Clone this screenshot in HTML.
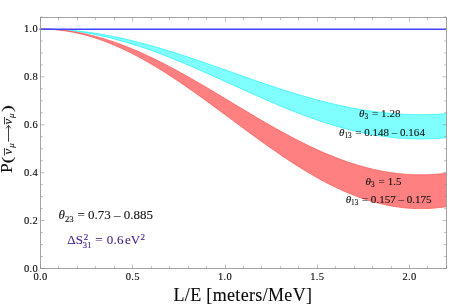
<!DOCTYPE html>
<html><head><meta charset="utf-8"><style>
html,body{margin:0;padding:0;background:#fff}
svg{display:block;will-change:transform}
text{font-family:"Liberation Serif",serif;fill:#0a0a0a;stroke:#0a0a0a;stroke-width:0.12}
</style></head><body>
<svg width="463" height="306" viewBox="0 0 463 306">
<path d="M40.50,29.00 L44.19,29.02 L47.88,29.08 L51.57,29.18 L55.26,29.32 L58.95,29.50 L62.64,29.71 L66.33,29.97 L70.02,30.27 L73.71,30.60 L77.40,30.98 L81.09,31.39 L84.78,31.84 L88.47,32.32 L92.16,32.84 L95.85,33.40 L99.54,34.00 L103.23,34.63 L106.92,35.29 L110.61,35.99 L114.30,36.72 L117.99,37.49 L121.68,38.28 L125.37,39.11 L129.06,39.97 L132.75,40.86 L136.44,41.77 L140.13,42.72 L143.82,43.69 L147.51,44.69 L151.20,45.71 L154.89,46.76 L158.58,47.83 L162.27,48.92 L165.96,50.03 L169.65,51.17 L173.34,52.32 L177.03,53.49 L180.72,54.68 L184.41,55.89 L188.10,57.11 L191.79,58.34 L195.48,59.59 L199.17,60.84 L202.86,62.11 L206.55,63.39 L210.24,64.67 L213.93,65.96 L217.62,67.26 L221.31,68.56 L225.00,69.87 L228.69,71.17 L232.38,72.48 L236.07,73.78 L239.76,75.09 L243.45,76.39 L247.14,77.69 L250.83,78.98 L254.52,80.26 L258.21,81.54 L261.90,82.81 L265.59,84.07 L269.28,85.31 L272.97,86.55 L276.66,87.77 L280.35,88.97 L284.04,90.17 L287.73,91.34 L291.42,92.49 L295.11,93.63 L298.80,94.74 L302.49,95.84 L306.18,96.91 L309.87,97.96 L313.56,98.98 L317.25,99.98 L320.94,100.96 L324.63,101.90 L328.32,102.82 L332.01,103.71 L335.70,104.57 L339.39,105.40 L343.08,106.20 L346.77,106.97 L350.46,107.70 L354.15,108.40 L357.84,109.07 L361.53,109.70 L365.22,110.30 L368.91,110.86 L372.60,111.38 L376.29,111.87 L379.98,112.32 L383.67,112.74 L387.36,113.11 L391.05,113.45 L394.74,113.75 L398.43,114.01 L402.12,114.23 L405.81,114.41 L409.50,114.55 L413.19,114.66 L416.88,114.72 L420.57,114.74 L424.26,114.72 L427.95,114.67 L431.64,114.57 L435.33,114.43 L439.02,114.26 L442.71,114.04 L446.50,113.78 L446.50,137.70 L442.71,138.04 L439.02,138.31 L435.33,138.54 L431.64,138.71 L427.95,138.84 L424.26,138.91 L420.57,138.93 L416.88,138.90 L413.19,138.82 L409.50,138.69 L405.81,138.51 L402.12,138.28 L398.43,137.99 L394.74,137.66 L391.05,137.28 L387.36,136.84 L383.67,136.36 L379.98,135.83 L376.29,135.25 L372.60,134.63 L368.91,133.95 L365.22,133.23 L361.53,132.47 L357.84,131.66 L354.15,130.80 L350.46,129.90 L346.77,128.96 L343.08,127.98 L339.39,126.96 L335.70,125.89 L332.01,124.79 L328.32,123.65 L324.63,122.47 L320.94,121.26 L317.25,120.01 L313.56,118.73 L309.87,117.41 L306.18,116.07 L302.49,114.70 L298.80,113.29 L295.11,111.86 L291.42,110.41 L287.73,108.93 L284.04,107.42 L280.35,105.90 L276.66,104.35 L272.97,102.78 L269.28,101.20 L265.59,99.60 L261.90,97.99 L258.21,96.36 L254.52,94.73 L250.83,93.08 L247.14,91.42 L243.45,89.76 L239.76,88.09 L236.07,86.42 L232.38,84.74 L228.69,83.07 L225.00,81.39 L221.31,79.72 L217.62,78.05 L213.93,76.39 L210.24,74.74 L206.55,73.09 L202.86,71.45 L199.17,69.83 L195.48,68.21 L191.79,66.62 L188.10,65.04 L184.41,63.47 L180.72,61.93 L177.03,60.40 L173.34,58.90 L169.65,57.42 L165.96,55.97 L162.27,54.54 L158.58,53.14 L154.89,51.76 L151.20,50.42 L147.51,49.11 L143.82,47.83 L140.13,46.59 L136.44,45.38 L132.75,44.20 L129.06,43.06 L125.37,41.96 L121.68,40.90 L117.99,39.88 L114.30,38.90 L110.61,37.96 L106.92,37.07 L103.23,36.22 L99.54,35.41 L95.85,34.65 L92.16,33.93 L88.47,33.26 L84.78,32.64 L81.09,32.06 L77.40,31.53 L73.71,31.06 L70.02,30.63 L66.33,30.25 L62.64,29.92 L58.95,29.64 L55.26,29.41 L51.57,29.23 L47.88,29.10 L44.19,29.03 L40.50,29.00Z" fill="#80ffff"/>
<path d="M40.50,29.00 L44.19,29.02 L47.88,29.08 L51.57,29.18 L55.26,29.32 L58.95,29.50 L62.64,29.71 L66.33,29.97 L70.02,30.27 L73.71,30.60 L77.40,30.98 L81.09,31.39 L84.78,31.84 L88.47,32.32 L92.16,32.84 L95.85,33.40 L99.54,34.00 L103.23,34.63 L106.92,35.29 L110.61,35.99 L114.30,36.72 L117.99,37.49 L121.68,38.28 L125.37,39.11 L129.06,39.97 L132.75,40.86 L136.44,41.77 L140.13,42.72 L143.82,43.69 L147.51,44.69 L151.20,45.71 L154.89,46.76 L158.58,47.83 L162.27,48.92 L165.96,50.03 L169.65,51.17 L173.34,52.32 L177.03,53.49 L180.72,54.68 L184.41,55.89 L188.10,57.11 L191.79,58.34 L195.48,59.59 L199.17,60.84 L202.86,62.11 L206.55,63.39 L210.24,64.67 L213.93,65.96 L217.62,67.26 L221.31,68.56 L225.00,69.87 L228.69,71.17 L232.38,72.48 L236.07,73.78 L239.76,75.09 L243.45,76.39 L247.14,77.69 L250.83,78.98 L254.52,80.26 L258.21,81.54 L261.90,82.81 L265.59,84.07 L269.28,85.31 L272.97,86.55 L276.66,87.77 L280.35,88.97 L284.04,90.17 L287.73,91.34 L291.42,92.49 L295.11,93.63 L298.80,94.74 L302.49,95.84 L306.18,96.91 L309.87,97.96 L313.56,98.98 L317.25,99.98 L320.94,100.96 L324.63,101.90 L328.32,102.82 L332.01,103.71 L335.70,104.57 L339.39,105.40 L343.08,106.20 L346.77,106.97 L350.46,107.70 L354.15,108.40 L357.84,109.07 L361.53,109.70 L365.22,110.30 L368.91,110.86 L372.60,111.38 L376.29,111.87 L379.98,112.32 L383.67,112.74 L387.36,113.11 L391.05,113.45 L394.74,113.75 L398.43,114.01 L402.12,114.23 L405.81,114.41 L409.50,114.55 L413.19,114.66 L416.88,114.72 L420.57,114.74 L424.26,114.72 L427.95,114.67 L431.64,114.57 L435.33,114.43 L439.02,114.26 L442.71,114.04 L446.50,113.78" fill="none" stroke="#38f2fb" stroke-width="0.85"/>
<path d="M40.50,29.00 L44.19,29.03 L47.88,29.10 L51.57,29.23 L55.26,29.41 L58.95,29.64 L62.64,29.92 L66.33,30.25 L70.02,30.63 L73.71,31.06 L77.40,31.53 L81.09,32.06 L84.78,32.64 L88.47,33.26 L92.16,33.93 L95.85,34.65 L99.54,35.41 L103.23,36.22 L106.92,37.07 L110.61,37.96 L114.30,38.90 L117.99,39.88 L121.68,40.90 L125.37,41.96 L129.06,43.06 L132.75,44.20 L136.44,45.38 L140.13,46.59 L143.82,47.83 L147.51,49.11 L151.20,50.42 L154.89,51.76 L158.58,53.14 L162.27,54.54 L165.96,55.97 L169.65,57.42 L173.34,58.90 L177.03,60.40 L180.72,61.93 L184.41,63.47 L188.10,65.04 L191.79,66.62 L195.48,68.21 L199.17,69.83 L202.86,71.45 L206.55,73.09 L210.24,74.74 L213.93,76.39 L217.62,78.05 L221.31,79.72 L225.00,81.39 L228.69,83.07 L232.38,84.74 L236.07,86.42 L239.76,88.09 L243.45,89.76 L247.14,91.42 L250.83,93.08 L254.52,94.73 L258.21,96.36 L261.90,97.99 L265.59,99.60 L269.28,101.20 L272.97,102.78 L276.66,104.35 L280.35,105.90 L284.04,107.42 L287.73,108.93 L291.42,110.41 L295.11,111.86 L298.80,113.29 L302.49,114.70 L306.18,116.07 L309.87,117.41 L313.56,118.73 L317.25,120.01 L320.94,121.26 L324.63,122.47 L328.32,123.65 L332.01,124.79 L335.70,125.89 L339.39,126.96 L343.08,127.98 L346.77,128.96 L350.46,129.90 L354.15,130.80 L357.84,131.66 L361.53,132.47 L365.22,133.23 L368.91,133.95 L372.60,134.63 L376.29,135.25 L379.98,135.83 L383.67,136.36 L387.36,136.84 L391.05,137.28 L394.74,137.66 L398.43,137.99 L402.12,138.28 L405.81,138.51 L409.50,138.69 L413.19,138.82 L416.88,138.90 L420.57,138.93 L424.26,138.91 L427.95,138.84 L431.64,138.71 L435.33,138.54 L439.02,138.31 L442.71,138.04 L446.50,137.70" fill="none" stroke="#38f2fb" stroke-width="0.85"/>
<path d="M40.50,29.00 L44.19,29.03 L47.88,29.14 L51.57,29.30 L55.26,29.54 L58.95,29.85 L62.64,30.22 L66.33,30.65 L70.02,31.16 L73.71,31.73 L77.40,32.36 L81.09,33.06 L84.78,33.82 L88.47,34.65 L92.16,35.54 L95.85,36.49 L99.54,37.50 L103.23,38.57 L106.92,39.70 L110.61,40.89 L114.30,42.14 L117.99,43.44 L121.68,44.79 L125.37,46.20 L129.06,47.66 L132.75,49.17 L136.44,50.73 L140.13,52.33 L143.82,53.99 L147.51,55.68 L151.20,57.42 L154.89,59.20 L158.58,61.02 L162.27,62.88 L165.96,64.78 L169.65,66.71 L173.34,68.67 L177.03,70.66 L180.72,72.69 L184.41,74.74 L188.10,76.81 L191.79,78.91 L195.48,81.03 L199.17,83.17 L202.86,85.32 L206.55,87.50 L210.24,89.68 L213.93,91.88 L217.62,94.08 L221.31,96.30 L225.00,98.52 L228.69,100.74 L232.38,102.96 L236.07,105.18 L239.76,107.40 L243.45,109.61 L247.14,111.82 L250.83,114.02 L254.52,116.20 L258.21,118.38 L261.90,120.54 L265.59,122.68 L269.28,124.80 L272.97,126.90 L276.66,128.97 L280.35,131.02 L284.04,133.05 L287.73,135.04 L291.42,137.01 L295.11,138.94 L298.80,140.84 L302.49,142.70 L306.18,144.52 L309.87,146.31 L313.56,148.05 L317.25,149.75 L320.94,151.41 L324.63,153.02 L328.32,154.58 L332.01,156.09 L335.70,157.56 L339.39,158.97 L343.08,160.33 L346.77,161.63 L350.46,162.88 L354.15,164.07 L357.84,165.20 L361.53,166.28 L365.22,167.30 L368.91,168.25 L372.60,169.14 L376.29,169.98 L379.98,170.74 L383.67,171.45 L387.36,172.09 L391.05,172.66 L394.74,173.17 L398.43,173.61 L402.12,173.99 L405.81,174.29 L409.50,174.54 L413.19,174.71 L416.88,174.82 L420.57,174.86 L424.26,174.83 L427.95,174.73 L431.64,174.56 L435.33,174.33 L439.02,174.03 L442.71,173.67 L446.50,173.22 L446.50,206.61 L442.71,207.16 L439.02,207.61 L435.33,207.98 L431.64,208.27 L427.95,208.47 L424.26,208.59 L420.57,208.62 L416.88,208.58 L413.19,208.45 L409.50,208.23 L405.81,207.93 L402.12,207.55 L398.43,207.09 L394.74,206.55 L391.05,205.92 L387.36,205.21 L383.67,204.43 L379.98,203.56 L376.29,202.61 L372.60,201.59 L368.91,200.49 L365.22,199.32 L361.53,198.06 L357.84,196.74 L354.15,195.34 L350.46,193.87 L346.77,192.34 L343.08,190.73 L339.39,189.06 L335.70,187.32 L332.01,185.52 L328.32,183.65 L324.63,181.73 L320.94,179.75 L317.25,177.71 L313.56,175.62 L309.87,173.47 L306.18,171.27 L302.49,169.03 L298.80,166.73 L295.11,164.40 L291.42,162.02 L287.73,159.60 L284.04,157.14 L280.35,154.65 L276.66,152.12 L272.97,149.56 L269.28,146.98 L265.59,144.36 L261.90,141.73 L258.21,139.07 L254.52,136.40 L250.83,133.70 L247.14,131.00 L243.45,128.28 L239.76,125.55 L236.07,122.82 L232.38,120.08 L228.69,117.35 L225.00,114.61 L221.31,111.88 L217.62,109.15 L213.93,106.44 L210.24,103.73 L206.55,101.04 L202.86,98.37 L199.17,95.71 L195.48,93.08 L191.79,90.47 L188.10,87.88 L184.41,85.33 L180.72,82.80 L177.03,80.31 L173.34,77.86 L169.65,75.44 L165.96,73.06 L162.27,70.73 L158.58,68.44 L154.89,66.20 L151.20,64.00 L147.51,61.86 L143.82,59.77 L140.13,57.74 L136.44,55.76 L132.75,53.84 L129.06,51.98 L125.37,50.18 L121.68,48.45 L117.99,46.78 L114.30,45.18 L110.61,43.64 L106.92,42.18 L103.23,40.79 L99.54,39.47 L95.85,38.22 L92.16,37.05 L88.47,35.96 L84.78,34.94 L81.09,34.00 L77.40,33.14 L73.71,32.36 L70.02,31.66 L66.33,31.04 L62.64,30.50 L58.95,30.04 L55.26,29.67 L51.57,29.38 L47.88,29.17 L44.19,29.04 L40.50,29.00Z" fill="#ff8080"/>
<path d="M40.50,29.00 L44.19,29.03 L47.88,29.14 L51.57,29.30 L55.26,29.54 L58.95,29.85 L62.64,30.22 L66.33,30.65 L70.02,31.16 L73.71,31.73 L77.40,32.36 L81.09,33.06 L84.78,33.82 L88.47,34.65 L92.16,35.54 L95.85,36.49 L99.54,37.50 L103.23,38.57 L106.92,39.70 L110.61,40.89 L114.30,42.14 L117.99,43.44 L121.68,44.79 L125.37,46.20 L129.06,47.66 L132.75,49.17 L136.44,50.73 L140.13,52.33 L143.82,53.99 L147.51,55.68 L151.20,57.42 L154.89,59.20 L158.58,61.02 L162.27,62.88 L165.96,64.78 L169.65,66.71 L173.34,68.67 L177.03,70.66 L180.72,72.69 L184.41,74.74 L188.10,76.81 L191.79,78.91 L195.48,81.03 L199.17,83.17 L202.86,85.32 L206.55,87.50 L210.24,89.68 L213.93,91.88 L217.62,94.08 L221.31,96.30 L225.00,98.52 L228.69,100.74 L232.38,102.96 L236.07,105.18 L239.76,107.40 L243.45,109.61 L247.14,111.82 L250.83,114.02 L254.52,116.20 L258.21,118.38 L261.90,120.54 L265.59,122.68 L269.28,124.80 L272.97,126.90 L276.66,128.97 L280.35,131.02 L284.04,133.05 L287.73,135.04 L291.42,137.01 L295.11,138.94 L298.80,140.84 L302.49,142.70 L306.18,144.52 L309.87,146.31 L313.56,148.05 L317.25,149.75 L320.94,151.41 L324.63,153.02 L328.32,154.58 L332.01,156.09 L335.70,157.56 L339.39,158.97 L343.08,160.33 L346.77,161.63 L350.46,162.88 L354.15,164.07 L357.84,165.20 L361.53,166.28 L365.22,167.30 L368.91,168.25 L372.60,169.14 L376.29,169.98 L379.98,170.74 L383.67,171.45 L387.36,172.09 L391.05,172.66 L394.74,173.17 L398.43,173.61 L402.12,173.99 L405.81,174.29 L409.50,174.54 L413.19,174.71 L416.88,174.82 L420.57,174.86 L424.26,174.83 L427.95,174.73 L431.64,174.56 L435.33,174.33 L439.02,174.03 L442.71,173.67 L446.50,173.22" fill="none" stroke="#ff6060" stroke-width="0.8"/>
<path d="M40.50,29.00 L44.19,29.04 L47.88,29.17 L51.57,29.38 L55.26,29.67 L58.95,30.04 L62.64,30.50 L66.33,31.04 L70.02,31.66 L73.71,32.36 L77.40,33.14 L81.09,34.00 L84.78,34.94 L88.47,35.96 L92.16,37.05 L95.85,38.22 L99.54,39.47 L103.23,40.79 L106.92,42.18 L110.61,43.64 L114.30,45.18 L117.99,46.78 L121.68,48.45 L125.37,50.18 L129.06,51.98 L132.75,53.84 L136.44,55.76 L140.13,57.74 L143.82,59.77 L147.51,61.86 L151.20,64.00 L154.89,66.20 L158.58,68.44 L162.27,70.73 L165.96,73.06 L169.65,75.44 L173.34,77.86 L177.03,80.31 L180.72,82.80 L184.41,85.33 L188.10,87.88 L191.79,90.47 L195.48,93.08 L199.17,95.71 L202.86,98.37 L206.55,101.04 L210.24,103.73 L213.93,106.44 L217.62,109.15 L221.31,111.88 L225.00,114.61 L228.69,117.35 L232.38,120.08 L236.07,122.82 L239.76,125.55 L243.45,128.28 L247.14,131.00 L250.83,133.70 L254.52,136.40 L258.21,139.07 L261.90,141.73 L265.59,144.36 L269.28,146.98 L272.97,149.56 L276.66,152.12 L280.35,154.65 L284.04,157.14 L287.73,159.60 L291.42,162.02 L295.11,164.40 L298.80,166.73 L302.49,169.03 L306.18,171.27 L309.87,173.47 L313.56,175.62 L317.25,177.71 L320.94,179.75 L324.63,181.73 L328.32,183.65 L332.01,185.52 L335.70,187.32 L339.39,189.06 L343.08,190.73 L346.77,192.34 L350.46,193.87 L354.15,195.34 L357.84,196.74 L361.53,198.06 L365.22,199.32 L368.91,200.49 L372.60,201.59 L376.29,202.61 L379.98,203.56 L383.67,204.43 L387.36,205.21 L391.05,205.92 L394.74,206.55 L398.43,207.09 L402.12,207.55 L405.81,207.93 L409.50,208.23 L413.19,208.45 L416.88,208.58 L420.57,208.62 L424.26,208.59 L427.95,208.47 L431.64,208.27 L435.33,207.98 L439.02,207.61 L442.71,207.16 L446.50,206.61" fill="none" stroke="#ff6060" stroke-width="0.8"/>
<line x1="39.5" y1="29.25" x2="446.5" y2="29.25" stroke="#4242ff" stroke-width="1.55"/>
<rect x="40.5" y="17.50" width="406.00" height="251.00" fill="none" stroke="#949494" stroke-width="0.85"/>
<path d="M40.50,268.5v-4 M40.50,17.50v4 M58.50,268.5v-2.4 M58.50,17.50v2.4 M77.50,268.5v-2.4 M77.50,17.50v2.4 M95.50,268.5v-2.4 M95.50,17.50v2.4 M114.50,268.5v-2.4 M114.50,17.50v2.4 M132.50,268.5v-4 M132.50,17.50v4 M151.50,268.5v-2.4 M151.50,17.50v2.4 M169.50,268.5v-2.4 M169.50,17.50v2.4 M188.50,268.5v-2.4 M188.50,17.50v2.4 M206.50,268.5v-2.4 M206.50,17.50v2.4 M225.50,268.5v-4 M225.50,17.50v4 M243.50,268.5v-2.4 M243.50,17.50v2.4 M261.50,268.5v-2.4 M261.50,17.50v2.4 M280.50,268.5v-2.4 M280.50,17.50v2.4 M298.50,268.5v-2.4 M298.50,17.50v2.4 M317.50,268.5v-4 M317.50,17.50v4 M335.50,268.5v-2.4 M335.50,17.50v2.4 M354.50,268.5v-2.4 M354.50,17.50v2.4 M372.50,268.5v-2.4 M372.50,17.50v2.4 M391.50,268.5v-2.4 M391.50,17.50v2.4 M409.50,268.5v-4 M409.50,17.50v4 M427.50,268.5v-2.4 M427.50,17.50v2.4 M446.50,268.5v-2.4 M446.50,17.50v2.4 M40.5,268.50h4 M446.50,268.50h-4 M40.5,256.52h2.4 M446.50,256.52h-2.4 M40.5,244.55h2.4 M446.50,244.55h-2.4 M40.5,232.57h2.4 M446.50,232.57h-2.4 M40.5,220.60h4 M446.50,220.60h-4 M40.5,208.62h2.4 M446.50,208.62h-2.4 M40.5,196.65h2.4 M446.50,196.65h-2.4 M40.5,184.68h2.4 M446.50,184.68h-2.4 M40.5,172.70h4 M446.50,172.70h-4 M40.5,160.72h2.4 M446.50,160.72h-2.4 M40.5,148.75h2.4 M446.50,148.75h-2.4 M40.5,136.77h2.4 M446.50,136.77h-2.4 M40.5,124.80h4 M446.50,124.80h-4 M40.5,112.82h2.4 M446.50,112.82h-2.4 M40.5,100.85h2.4 M446.50,100.85h-2.4 M40.5,88.88h2.4 M446.50,88.88h-2.4 M40.5,76.90h4 M446.50,76.90h-4 M40.5,64.93h2.4 M446.50,64.93h-2.4 M40.5,52.95h2.4 M446.50,52.95h-2.4 M40.5,40.98h2.4 M446.50,40.98h-2.4 M40.5,29.00h4 M446.50,29.00h-4 M40.5,17.02h2.4 M446.50,17.02h-2.4" stroke="#8a8a8a" stroke-width="0.55" fill="none"/>
<text x="40.50" y="280" font-size="10.5" letter-spacing="0.35" text-anchor="middle">0.0</text>
<text x="132.75" y="280" font-size="10.5" letter-spacing="0.35" text-anchor="middle">0.5</text>
<text x="225.00" y="280" font-size="10.5" letter-spacing="0.35" text-anchor="middle">1.0</text>
<text x="317.25" y="280" font-size="10.5" letter-spacing="0.35" text-anchor="middle">1.5</text>
<text x="409.50" y="280" font-size="10.5" letter-spacing="0.35" text-anchor="middle">2.0</text>
<text x="38.2" y="271.80" font-size="10.5" letter-spacing="0.35" text-anchor="end">0.0</text>
<text x="38.2" y="223.90" font-size="10.5" letter-spacing="0.35" text-anchor="end">0.2</text>
<text x="38.2" y="176.00" font-size="10.5" letter-spacing="0.35" text-anchor="end">0.4</text>
<text x="38.2" y="128.10" font-size="10.5" letter-spacing="0.35" text-anchor="end">0.6</text>
<text x="38.2" y="80.20" font-size="10.5" letter-spacing="0.35" text-anchor="end">0.8</text>
<text x="38.2" y="32.30" font-size="10.5" letter-spacing="0.35" text-anchor="end">1.0</text>
<text x="173.5" y="301.3" font-size="18" textLength="138.5" lengthAdjust="spacing">L/E [meters/MeV]</text>
<text x="58.5" y="219.4" font-size="13" style="fill:#111;stroke:#111;stroke-width:0.1"><tspan font-style="italic">θ</tspan><tspan font-size="8.6" dy="2.6">23</tspan><tspan dy="-2.6" dx="0.8" letter-spacing="0"> = 0.73 – 0.885</tspan></text>
<text x="359" y="117.1" font-size="11" style="fill:#111;stroke:#111;stroke-width:0.1"><tspan font-style="italic">θ</tspan><tspan font-size="7.3" dy="2.2">3</tspan><tspan dy="-2.2" dx="1.0" letter-spacing="0.1"> = 1.28</tspan></text>
<text x="339" y="136.1" font-size="11" style="fill:#111;stroke:#111;stroke-width:0.1"><tspan font-style="italic">θ</tspan><tspan font-size="7.3" dy="2.2">13</tspan><tspan dy="-2.2" dx="0.7" letter-spacing="0.02"> = 0.148 – 0.164</tspan></text>
<text x="365.6" y="184.5" font-size="11" style="fill:#111;stroke:#111;stroke-width:0.1"><tspan font-style="italic">θ</tspan><tspan font-size="7.3" dy="2.2">3</tspan><tspan dy="-2.2" dx="1.0" letter-spacing="0.1"> = 1.5</tspan></text>
<text x="345.7" y="203" font-size="11" style="fill:#111;stroke:#111;stroke-width:0.1"><tspan font-style="italic">θ</tspan><tspan font-size="7.3" dy="2.2">13</tspan><tspan dy="-2.2" dx="0.7" letter-spacing="0.02"> = 0.157 – 0.175</tspan></text>
<text x="67.3" y="244.3" font-size="13" style="fill:#3f1a88;stroke:#3f1a88;stroke-width:0.1" >ΔS</text>
<text x="83.8" y="239.7" font-size="9" style="fill:#3f1a88;stroke:#3f1a88;stroke-width:0.1" >2</text>
<text x="82.4" y="247.6" font-size="9" style="fill:#3f1a88;stroke:#3f1a88;stroke-width:0.1" >31</text>
<text x="95.3" y="244.3" font-size="13" style="fill:#3f1a88;stroke:#3f1a88;stroke-width:0.1" >=</text>
<text x="106.8" y="244.3" font-size="13" style="fill:#3f1a88;stroke:#3f1a88;stroke-width:0.1" letter-spacing="0.2">0.6</text>
<text x="125.1" y="244.3" font-size="13" style="fill:#3f1a88;stroke:#3f1a88;stroke-width:0.1" >eV</text>
<text x="140.4" y="239.7" font-size="9" style="fill:#3f1a88;stroke:#3f1a88;stroke-width:0.1" >2</text>
<g transform="translate(11.7,173) rotate(-90)"><text transform="translate(0,0) scale(1.08,1)" font-size="16" style="stroke:#111;stroke-width:0.1">P</text><text transform="translate(9.4,0.0) scale(1.4,1)" font-size="15" style="stroke:#111;stroke-width:0.1">(</text><text transform="translate(18.6,0) scale(1.0,1)" font-size="13" font-style="italic" style="stroke:#111;stroke-width:0.1">ν</text><text transform="translate(25.2,2.2) scale(1.0,1)" font-size="9" font-style="italic" style="stroke:#111;stroke-width:0.1">μ</text><path d="M17.4,-7.2h7.6" stroke="#111" stroke-width="0.8"/><path d="M31.4,-3.2h16 M44.6,-5.6l3,2.4l-3,2.4" stroke="#111" stroke-width="0.8" fill="none"/><text transform="translate(48.4,0) scale(1.0,1)" font-size="13" font-style="italic" style="stroke:#111;stroke-width:0.1">ν</text><text transform="translate(55.0,2.2) scale(1.0,1)" font-size="9" font-style="italic" style="stroke:#111;stroke-width:0.1">μ</text><path d="M48.6,-7.2h7.4" stroke="#111" stroke-width="0.8"/><text transform="translate(61.0,0.0) scale(1.4,1)" font-size="15" style="stroke:#111;stroke-width:0.1">)</text></g>
</svg></body></html>
